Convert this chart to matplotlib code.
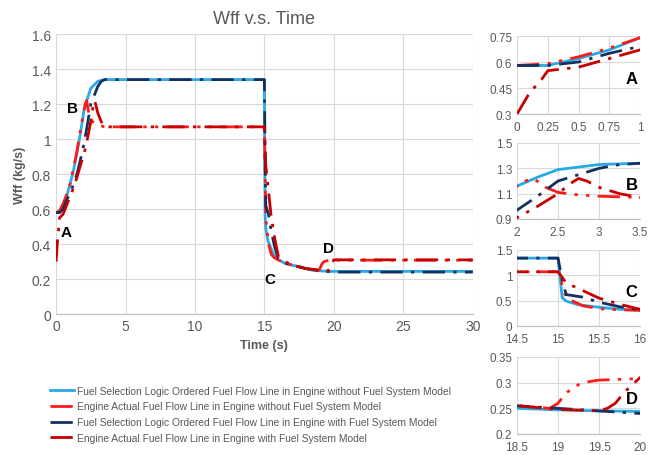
import matplotlib.pyplot as plt
from matplotlib.ticker import FuncFormatter

plt.rcParams['font.family'] = ['Liberation Sans', 'DejaVu Sans']

# Data
t1 = [0, 0.25, 0.5, 0.75, 1.0, 1.25, 1.5, 1.75, 2.0, 2.25, 2.5, 2.75, 3.0, 3.25, 3.5, 4,
      15.0, 15.05, 15.1, 15.25, 15.5, 15.75, 16, 16.5, 17, 17.5, 18, 18.5, 19, 19.5, 20, 30]
w1 = [0.58, 0.58, 0.62, 0.67, 0.74, 0.82, 0.92, 1.03, 1.16, 1.23, 1.29, 1.31, 1.33, 1.335, 1.34, 1.34,
      1.34, 0.56, 0.49, 0.42, 0.37, 0.33, 0.31, 0.29, 0.28, 0.27, 0.26, 0.25, 0.247, 0.245, 0.244, 0.244]

t2 = [0, 0.25, 0.5, 0.75, 1.0, 1.25, 1.5, 1.75, 2.0, 2.1, 2.2, 2.35, 2.5, 2.75, 3.0, 3.25, 3.5, 4,
      15.0, 15.1, 15.3, 15.5, 15.75, 16, 16.5, 17, 17.5, 18, 18.5, 18.9, 19.0, 19.1, 19.2, 19.3, 19.5, 20, 30]
w2 = [0.58, 0.59, 0.63, 0.68, 0.74, 0.83, 0.93, 1.05, 1.16, 1.2, 1.22, 1.15, 1.11, 1.09, 1.08, 1.075, 1.07, 1.07,
      1.07, 0.55, 0.4, 0.34, 0.32, 0.31, 0.29, 0.28, 0.27, 0.26, 0.255, 0.25, 0.26, 0.28, 0.292, 0.3, 0.305, 0.308, 0.308]

t3 = [0, 0.25, 0.5, 0.75, 1.0, 1.25, 1.5, 1.75, 2.0, 2.25, 2.5, 2.75, 3.0, 3.25, 3.5, 4,
      15.0, 15.05, 15.1, 15.3, 15.5, 15.75, 16, 16.5, 17, 17.5, 18, 18.5, 19, 19.5, 20, 30]
w3 = [0.58, 0.58, 0.60, 0.65, 0.69, 0.74, 0.80, 0.88, 0.97, 1.08, 1.2, 1.25, 1.3, 1.33, 1.34, 1.34,
      1.34, 0.9, 0.62, 0.57, 0.47, 0.38, 0.32, 0.29, 0.28, 0.27, 0.26, 0.255, 0.25, 0.245, 0.24, 0.24]

t4 = [0, 0.1, 0.2, 0.25, 0.5, 0.75, 1.0, 1.25, 1.5, 1.75, 2.0, 2.25, 2.5, 2.65, 2.75, 2.85, 3.0, 3.25, 3.5, 4,
      15.0, 15.1, 15.3, 15.5, 15.75, 16, 16.5, 17, 17.5, 18, 18.5, 19, 19.5, 19.6, 19.7, 19.8, 19.9, 20, 30]
w4 = [0.3, 0.42, 0.5, 0.55, 0.57, 0.62, 0.67, 0.72, 0.78, 0.85, 0.91, 1.0, 1.1, 1.18, 1.22, 1.2, 1.15, 1.1, 1.07, 1.07,
      1.07, 0.85, 0.7, 0.55, 0.43, 0.33, 0.3, 0.28, 0.27, 0.26, 0.255, 0.248, 0.245, 0.25, 0.26, 0.28, 0.295, 0.31, 0.31]

labels = ['Fuel Selection Logic Ordered Fuel Flow Line in Engine without Fuel System Model',
          'Engine Actual Fuel Flow Line in Engine without Fuel System Model',
          'Fuel Selection Logic Ordered Fuel Flow Line in Engine with Fuel System Model',
          'Engine Actual Fuel Flow Line in Engine with Fuel System Model']

# zoom windows: (xlim, ylim, xticks, yticks, letter)
zooms = [((0, 1), (0.3, 0.75), [0, 0.25, 0.5, 0.75, 1], [0.3, 0.45, 0.6, 0.75], 'A'),
         ((2, 3.5), (0.9, 1.5), [2, 2.5, 3, 3.5], [0.9, 1.1, 1.3, 1.5], 'B'),
         ((14.5, 16), (0, 1.5), [14.5, 15, 15.5, 16], [0, 0.5, 1, 1.5], 'C'),
         ((18.5, 20), (0.2, 0.35), [18.5, 19, 19.5, 20], [0.2, 0.25, 0.3, 0.35], 'D')]

series = [(t1, w1, '#29a9e6', '-'),
          (t2, w2, '#ff1a1a', (0, (8, 3, 1.2, 3, 1.2, 3))),
          (t3, w3, '#14305e', (0, (8, 3, 1.2, 3))),
          (t4, w4, '#c80000', (0, (8, 3, 1.2, 3)))]

gray = '#595959'
fmt = FuncFormatter(lambda v, p: '{:g}'.format(round(v, 3)))


def style(ax, size):
    for s in ['top', 'right', 'left']:
        ax.spines[s].set_visible(False)
    ax.spines['bottom'].set_color('#bfbfbf')
    ax.grid(True, color='#d9d9d9', lw=0.8)
    ax.set_axisbelow(True)
    ax.tick_params(length=0, labelsize=size, colors=gray)
    ax.xaxis.set_major_formatter(fmt)
    ax.yaxis.set_major_formatter(fmt)


fig = plt.figure(figsize=(6.52, 4.56), dpi=100)

ax = fig.add_axes([0.086, 0.309, 0.639, 0.614])
for (t, w, c, ls), lab in zip(series, labels):
    ax.plot(t, w, color=c, ls=ls, lw=2, label=lab)
ax.set_xlim(0, 30)
ax.set_ylim(0, 1.6)
ax.set_xticks(range(0, 31, 5))
ax.set_yticks([0, 0.2, 0.4, 0.6, 0.8, 1.0, 1.2, 1.4, 1.6])
style(ax, 10)
ax.set_title('Wff v.s. Time', fontsize=13, color=gray, pad=8)
ax.set_xlabel('Time (s)', fontsize=9, color=gray, fontweight='bold')
ax.set_ylabel('Wff (kg/s)', fontsize=9, color=gray, fontweight='bold')
for txt, x, y in [('A', 0.72, 0.47), ('B', 1.2, 1.18), ('C', 15.4, 0.2), ('D', 19.6, 0.38)]:
    ax.text(x, y, txt, fontsize=11, fontweight='bold', ha='center', va='center')

tops = [37, 144, 251, 358]
bottoms = [115, 220, 327, 435]
for (xl, yl, xt, yt, letter), top, bot in zip(zooms, tops, bottoms):
    iax = fig.add_axes([0.793, 1 - bot / 456, 0.1887, (bot - top) / 456])
    for t, w, c, ls in series:
        iax.plot(t, w, color=c, ls=ls, lw=2)
    iax.set_xlim(xl)
    iax.set_ylim(yl)
    iax.set_xticks(xt)
    iax.set_yticks(yt)
    style(iax, 8.5)
    iax.tick_params(axis='x', pad=5)
    iax.text(0.93, 0.46, letter, transform=iax.transAxes, fontsize=12, fontweight='bold',
             ha='center', va='center')

fig.legend(*ax.get_legend_handles_labels(), loc='upper left', bbox_to_anchor=(0.062, 0.172),
           frameon=False, fontsize=7.4, handlelength=2.4, handletextpad=0.3, labelspacing=0.55,
           labelcolor=gray)

fig.savefig('out.png', dpi=100)
